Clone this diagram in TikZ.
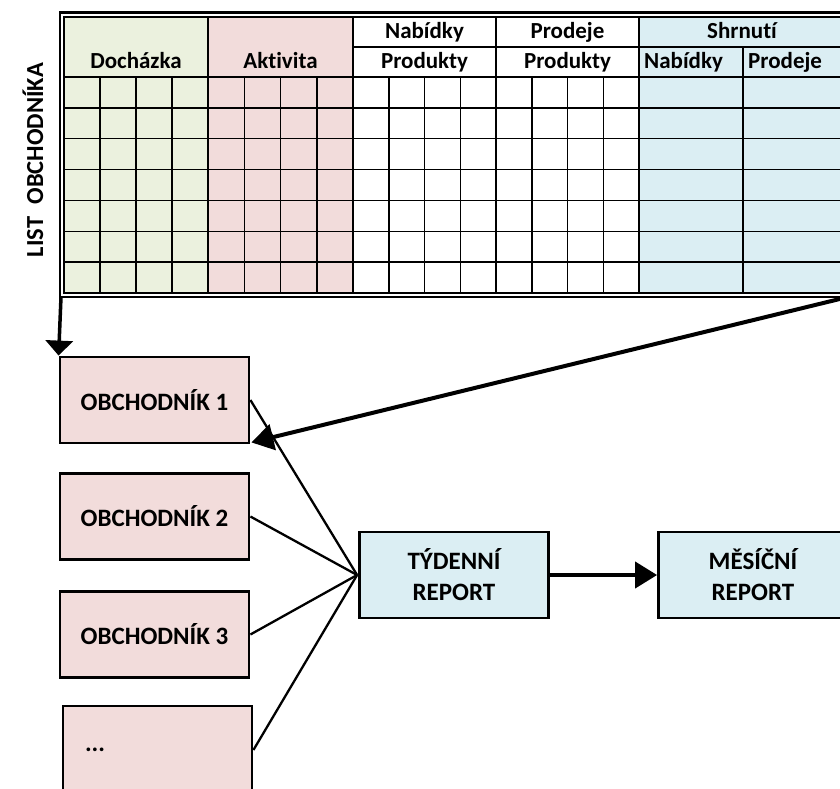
\documentclass[tikz,border=0pt]{standalone}
\usepackage{fontspec}
\setmainfont[Ligatures=NoCommon]{Carlito}
\usetikzlibrary{arrows.meta}
\definecolor{cgreen}{HTML}{EBF1DE}
\definecolor{cpink}{HTML}{F2DCDB}
\definecolor{cblue}{HTML}{DBEEF3}
\tikzset{
  grid/.style={line width=1.5pt, black},
  hdr/.style={inner sep=0pt, font=\fontsize{23}{27}\selectfont\bfseries, text height=0.72em, text depth=0.22em},
  pbox/.style={draw, line width=2.8pt, fill=cpink, minimum width=189pt, minimum height=86pt, inner sep=0pt, font=\fontsize{25}{31}\selectfont\bfseries},
  bbox/.style={pbox, fill=cblue, align=center},
  thin/.style={line width=2.3pt},
  bigarrow/.style={line width=4pt, -{Triangle[length=22pt,width=26pt]}},
}
\begin{document}
\begin{tikzpicture}[x=1pt,y=-1pt]
\useasboundingbox (0,0) rectangle (840,788);
% table fills
\fill[cgreen] (64,17) rectangle (208,293);
\fill[cpink] (208,17) rectangle (353,293);
\fill[cblue] (639,17) rectangle (850,293);
% grid
\foreach \y in {77,107.86,138.71,169.57,200.43,231.29,262.14} \draw[grid] (64,\y) -- (850,\y);
\draw[grid] (353,47) -- (850,47);
\foreach \x in {208,353,496,639} \draw[grid] (\x,17) -- (\x,293);
\draw[grid] (743,47) -- (743,293);
\foreach \x in {100,136,172, 244.25,280.5,316.75, 388.75,424.5,460.25, 531.75,567.5,603.25} \draw[grid] (\x,77) -- (\x,293);
% double border
\draw[line width=2.2pt] (60,12.5) rectangle (852,297);
\draw[line width=1.5pt] (64,17) rectangle (848,293);
\coordinate (tsw) at (61,297);
\coordinate (tse) at (852,296);
% header texts
\node[hdr] (hdoch) at (136,65.5) {Docházka};
\node[hdr] (hakt) at (280.5,65.5) {Aktivita};
\node[hdr] (hnab) at (424.5,35.5) {Nabídky};
\node[hdr] (hnabp) at (424.5,65.5) {Produkty};
\node[hdr] (hpro) at (567.5,35.5) {Prodeje};
\node[hdr] (hprop) at (567.5,65.5) {Produkty};
\node[hdr] (hshr) at (742,35.5) {Shrnutí};
\node[hdr, anchor=west] (hsnab) at (644,65.5) {Nabídky};
\node[hdr, anchor=west] (hspro) at (748,65.5) {Prodeje};
% side label
\node[rotate=90, inner sep=0pt, font=\fontsize{24.5}{28}\selectfont\bfseries] (side) at (33,160) {LIST\enspace OBCHODNÍKA};
% boxes
\node[pbox] (b1) at (154.5,400) {OBCHODNÍK 1};
\node[pbox] (b2) at (154.5,516.5) {OBCHODNÍK 2};
\node[pbox] (b3) at (154.5,634.5) {OBCHODNÍK 3};
\node[pbox, text width=145pt, align=left, inner xsep=22pt, minimum height=88pt] (b4) at (157.5,750) {...};
\node[bbox] (t) at (454,575) {TÝDENNÍ\\REPORT};
\node[bbox] (m) at (753,575) {MĚSÍČNÍ\\REPORT};
% connectors
\draw[line width=3.5pt, -{Triangle[length=15pt,width=27pt]}] (tsw) -- (b1.north west);
\draw[bigarrow] (tse) -- ([xshift=1pt,yshift=2pt]b1.south east);
\foreach \b in {b1,b2,b3,b4} \draw[thin] (\b.east) -- ([xshift=-1pt]t.west);
\draw[bigarrow] (t.east) -- (m.west);
\end{tikzpicture}
\end{document}
